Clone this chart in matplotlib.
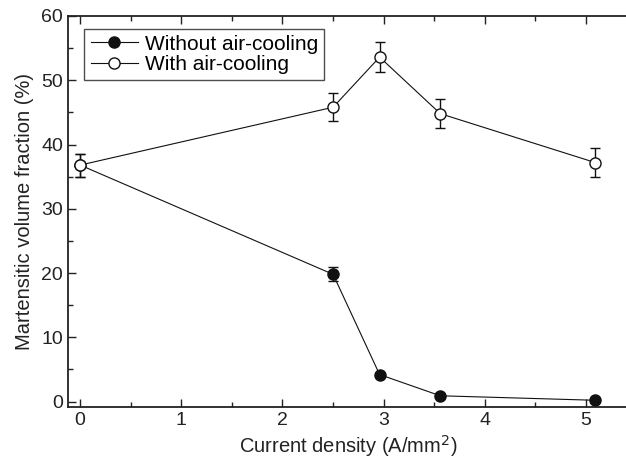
import matplotlib
matplotlib.use("Agg")
import matplotlib.pyplot as plt
from matplotlib.ticker import MultipleLocator

plt.rcParams['font.family'] = ['Liberation Sans', 'DejaVu Sans']

x_without = [0, 2.5, 2.96, 3.56, 5.09]
y_without = [36.8, 19.8, 4.2, 0.9, 0.2]
e_without = [1.8, 1.1, 0.3, 0.2, 0.1]

x_with = [0, 2.5, 2.96, 3.56, 5.09]
y_with = [36.8, 45.8, 53.6, 44.8, 37.2]
e_with = [1.8, 2.2, 2.35, 2.25, 2.25]

xticks = [0, 1, 2, 3, 4, 5]
yticks = [0, 10, 20, 30, 40, 50, 60]

fig = plt.figure(figsize=(6.26, 4.66), dpi=100)
ax = fig.add_axes([68/626, 1 - 406.7/466, 561/626, (406.7 - 16)/466])

ax.errorbar(x_without, y_without, yerr=e_without, color='#111111', lw=0.8,
            marker='o', ms=8, mfc='#111111', mec='#111111',
            capsize=3.5, elinewidth=1.0, capthick=1.0, zorder=3,
            label='Without air-cooling')
ax.errorbar(x_with, y_with, yerr=e_with, color='#111111', lw=0.8,
            marker='o', ms=8, mfc='white', mec='#111111', mew=1.0,
            capsize=3.5, elinewidth=1.0, capthick=1.0, zorder=3,
            label='With air-cooling')

ax.set_xlim(-0.12, 5.425)
ax.set_ylim(-0.8, 60)
ax.set_xticks(xticks)
ax.set_yticks(yticks)
ax.xaxis.set_minor_locator(MultipleLocator(0.5))
ax.yaxis.set_minor_locator(MultipleLocator(5))
ax.tick_params(which='both', direction='in', top=True, right=False, labelsize=14,
               colors='#222222', width=1.0)
ax.tick_params(which='major', length=6)
ax.tick_params(which='minor', length=3.5)
for s in ax.spines.values():
    s.set_linewidth(1.3)
    s.set_color('#222222')

ax.set_xlabel('Current density (A/mm$^2$)', fontsize=14.5, color='#222222', labelpad=3)
ax.set_ylabel('Martensitic volume fraction (%)', fontsize=14.5, color='#222222', labelpad=5)

handles, labels = ax.get_legend_handles_labels()
handles = [h[0] for h in handles]
leg = ax.legend(handles, labels, loc='upper left', bbox_to_anchor=(0.029, 0.968),
                fontsize=15, frameon=True, fancybox=False, edgecolor='#222222',
                handlelength=2.3, handletextpad=0.3, borderpad=0.3, labelspacing=0.05,
                borderaxespad=0)
leg.get_frame().set_linewidth(1.0)

fig.savefig('out.png', dpi=100)
